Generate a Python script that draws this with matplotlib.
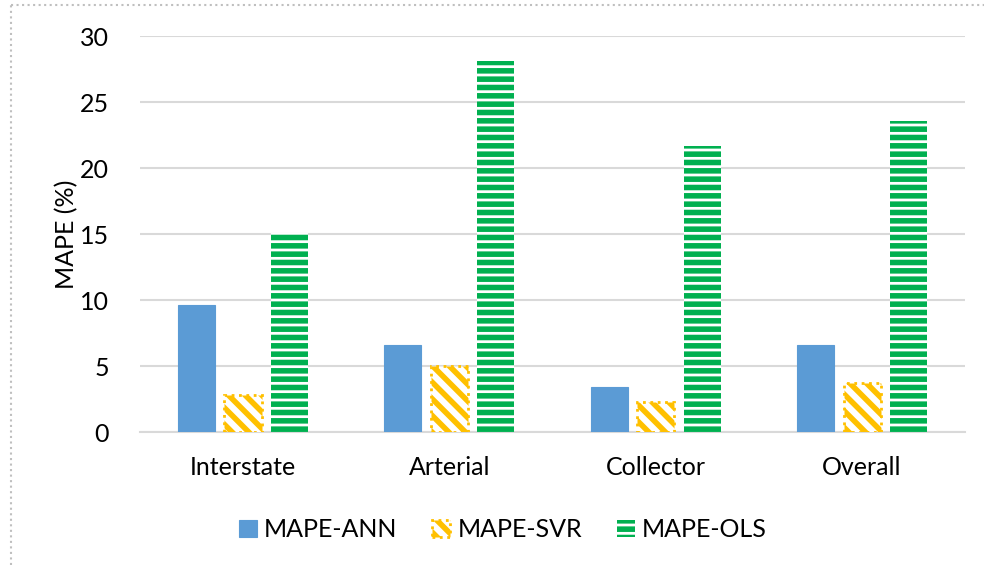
import matplotlib.pyplot as plt
import numpy as np
from matplotlib.lines import Line2D

categories = ["Interstate", "Arterial", "Collector", "Overall"]
mape_ann = [9.6, 6.6, 3.4, 6.6]
mape_svr = [2.8, 5.0, 2.3, 3.7]
mape_ols = [15.1, 28.1, 21.7, 23.6]
series_names = ["MAPE-ANN", "MAPE-SVR", "MAPE-OLS"]

plt.rcParams['font.family'] = ['Lato', 'DejaVu Sans']
plt.rcParams['hatch.linewidth'] = 4.0

fig = plt.figure(figsize=(9.84, 5.65), dpi=100)
ax = fig.add_axes([0.142, 0.235, 0.839, 0.701])

x = np.arange(len(categories))
w = 0.18
step = 0.225

# ANN: solid blue
ax.bar(x - step, mape_ann, w, color='#5B9BD5', edgecolor='#5B9BD5', linewidth=0.8,
       label=series_names[0], zorder=3)
# SVR: yellow diagonal stripes, dotted border
ax.bar(x, mape_svr, w, facecolor='white', edgecolor='#FFC000', hatch='\\\\',
       linewidth=2, linestyle=':', label=series_names[1], zorder=3)
# OLS: green horizontal stripes
ax.bar(x + step, mape_ols, w, facecolor='white', edgecolor='#00B050', hatch='--',
       linewidth=0, label=series_names[2], zorder=3)

ax.set_xlim(-0.5, len(categories) - 0.5)
ax.set_ylim(0, 30)
ax.set_yticks(range(0, 31, 5))
ax.set_xticks(x)
ax.set_xticklabels(categories)
ax.tick_params(axis='both', length=0, labelsize=18, colors='#000000')
ax.tick_params(axis='y', pad=22)
ax.tick_params(axis='x', pad=17)
ax.grid(axis='y', color='#D9D9D9', linewidth=1.5, zorder=0)
for s in ['top', 'right', 'left']:
    ax.spines[s].set_visible(False)
ax.spines['bottom'].set_color('#D9D9D9')
ax.spines['bottom'].set_linewidth(1.5)
ax.set_ylabel('MAPE (%)', fontsize=18, labelpad=1)

ax.legend(loc='upper center', bbox_to_anchor=(0.44, -0.16), ncol=3, frameon=False,
          fontsize=18, handlelength=0.7, handleheight=0.7, handletextpad=0.3,
          columnspacing=1.4)

# dotted frame around the chart area
fig.add_artist(Line2D([0.011, 0.011], [0.0, 0.991], transform=fig.transFigure,
                      color='#BFBFBF', linestyle=':', linewidth=1.5))
fig.add_artist(Line2D([0.011, 1.0], [0.991, 0.991], transform=fig.transFigure,
                      color='#BFBFBF', linestyle=':', linewidth=1.5))

plt.savefig('out.png', dpi=100)
